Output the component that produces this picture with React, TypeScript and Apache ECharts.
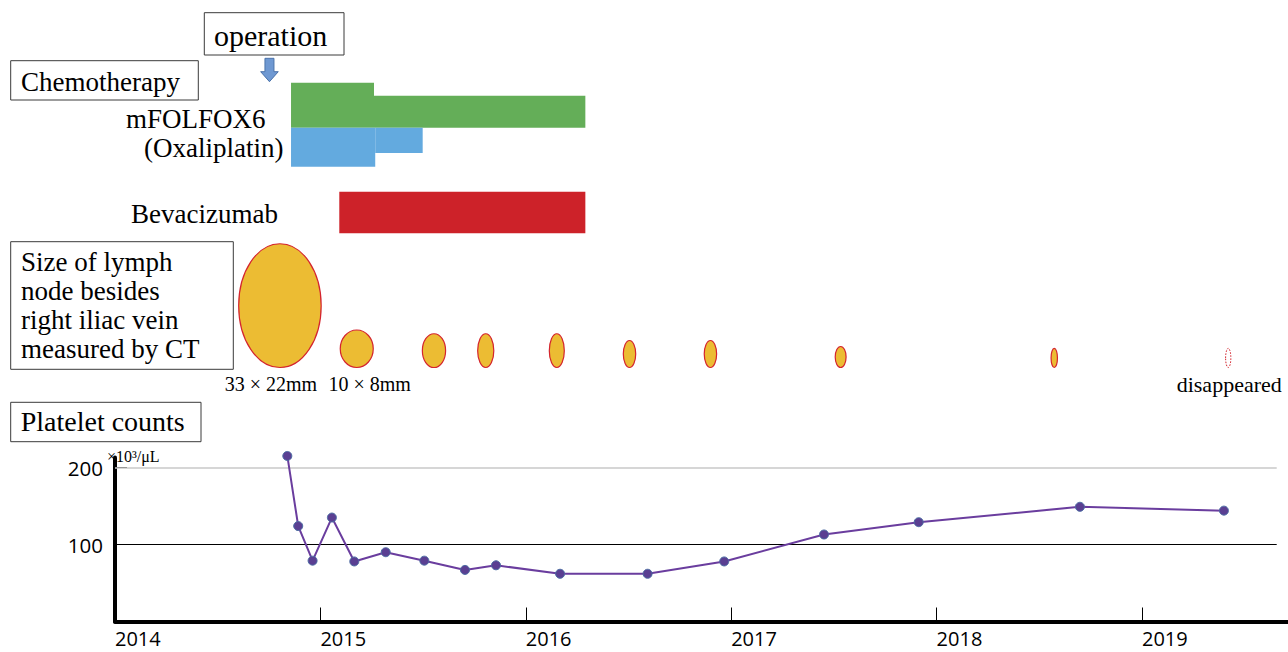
import React, { useEffect, useRef } from "react";
import * as echarts from "echarts";

// ---------- data ----------
const yearTicks = [2015, 2016, 2017, 2018, 2019];
const yearLabels = [2014, 2015, 2016, 2017, 2018, 2019];
const valueTicks = [100, 200];
const referenceLevels = [100, 200];

const plateletDates = [
  2014.839, 2014.892, 2014.962, 2015.056, 2015.165, 2015.318, 2015.506, 2015.704,
  2015.855, 2016.167, 2016.593, 2016.966, 2017.452, 2017.913, 2018.698, 2019.399,
];
const plateletValues = [
  215, 124, 79, 135, 78, 90, 79, 67, 73, 62, 62, 78, 113, 129, 149, 144,
];

const regimenNames = ["mFOLFOX6", "(Oxaliplatin)", "Bevacizumab"];
const therapyRow = [0, 0, 1, 1, 2];
const therapyStart = [2014.857, 2015.261, 2014.857, 2015.267, 2015.092];
const therapyEnd = [2015.261, 2016.29, 2015.267, 2015.498, 2016.29];
const therapyDose = [1, 0.71, 1, 0.65, 1];

const operationDates = [2014.752];

const ctDates = [
  2014.803, 2015.177, 2015.553, 2015.805, 2016.151, 2016.505, 2016.899, 2017.533,
  2018.573, 2019.42,
];
const nodeLongMm = [33, 10, 9, 9, 9, 7.2, 7.2, 5.6, 5.1, 5.1];
const nodeShortMm = [22, 8.8, 6.2, 4.3, 4, 3.3, 3.3, 2.9, 1.7, 1.4];
const nodePresent = [1, 1, 1, 1, 1, 1, 1, 1, 1, 0];
const nodeLabels = ["33 × 22mm", "10 × 8mm", "", "", "", "", "", "", "", "disappeared"];

// ---------- layout / style ----------
const X_MIN = 2014;
const X_MAX = 2019.711;
const REF_LINE_END = 2019.656;
const PX_PER_MM = 3.75;
const NODE_BOTTOM = 367.5;
const rowGeom = [
  { top: 82.7, bottom: 127.7, anchor: "bottom", color: "#64AE58" },
  { top: 127.7, bottom: 166.7, anchor: "top", color: "#63AADF" },
  { top: 191.7, bottom: 233.3, anchor: "bottom", color: "#CD2229" },
];
const labelDx = [-9, 13, 0, 0, 0, 0, 0, 0, 0, 1];
const SERIF = '"Liberation Serif", "Times New Roman", serif';
const SANS = '"Open Sans", "Noto Sans", sans-serif';

function txt(text: string, x: number, y: number, size: number, align = "left") {
  return {
    type: "text",
    silent: true,
    style: {
      text,
      x,
      y,
      font: `${size}px ${SERIF}`,
      fill: "#000",
      align,
      textAlign: align,
      verticalAlign: "middle",
      textVerticalAlign: "middle",
    },
  };
}
function box(x: number, y: number, w: number, h: number) {
  return {
    type: "rect",
    silent: true,
    shape: { x, y, width: w, height: h },
    style: { fill: "none", stroke: "#3a3a3a", lineWidth: 1 },
  };
}

export default function App() {
  const ref = useRef<HTMLDivElement>(null);
  useEffect(() => {
    document.body.style.margin = "0";
    if (!ref.current) return;
    const chart = echarts.init(ref.current, undefined, { renderer: "svg" });

    const therapyData = therapyStart.map((s, i) => [s, therapyEnd[i], therapyRow[i], therapyDose[i]]);
    const nodeData = ctDates.map((d, i) => [d, nodeLongMm[i], nodeShortMm[i], nodePresent[i], i]);

    const option: any = {
      animation: false,
      grid: [
        { left: 115, right: 0, top: 457.5, bottom: 30.5 },
        { left: 115, right: 0, top: 0, bottom: 0 },
      ],
      xAxis: [
        {
          gridIndex: 0,
          type: "value",
          min: X_MIN,
          max: X_MAX,
          interval: 1,
          axisLine: { show: true, onZero: false, lineStyle: { color: "#000", width: 4 } },
          axisTick: {
            show: true,
            inside: true,
            length: 14,
            customValues: yearTicks,
            lineStyle: { color: "#000", width: 1 },
          },
          axisLabel: {
            show: true,
            customValues: yearLabels,
            align: "left",
            margin: 6,
            color: "#000",
            fontSize: 20,
            lineHeight: 22,
            fontFamily: SANS,
            formatter: (v: number) => String(Math.round(v)),
          },
          splitLine: { show: false },
        },
        { gridIndex: 1, type: "value", min: X_MIN, max: X_MAX, show: false },
      ],
      yAxis: [
        {
          gridIndex: 0,
          type: "value",
          min: 0,
          max: 213,
          axisLine: { show: true, lineStyle: { color: "#000", width: 4 } },
          axisTick: {
            show: true,
            inside: true,
            length: 12,
            customValues: valueTicks,
            lineStyle: { color: "#000", width: 1 },
          },
          axisLabel: {
            show: true,
            customValues: valueTicks,
            margin: 12,
            color: "#000",
            fontSize: 20.5,
            fontFamily: SANS,
          },
          splitLine: { show: false },
        },
        { gridIndex: 1, type: "value", min: 0, max: 1, show: false },
      ],
      graphic: [
        box(204.3, 12.7, 139.7, 42.3),
        txt("operation", 214, 35, 30),
        box(10.7, 60.7, 187.6, 39.3),
        txt("Chemotherapy", 21, 81.6, 27),
        txt(regimenNames[0], 126, 119.2, 27),
        txt(regimenNames[1], 144, 147.9, 27),
        txt(regimenNames[2], 131, 213.6, 27),
        box(10.7, 241.7, 222.6, 127.6),
        txt("Size of lymph", 21, 262.4, 27),
        txt("node besides", 21, 291.4, 27),
        txt("right iliac vein", 21, 320.4, 27),
        txt("measured by CT", 21, 349.4, 27),
        box(10.7, 402.3, 190.3, 39.4),
        txt("Platelet counts", 20.7, 421.5, 28),
        txt("×10³/μL", 107, 456, 16),
      ],
      series: [
        {
          type: "line",
          xAxisIndex: 0,
          yAxisIndex: 0,
          clip: false,
          data: plateletDates.map((d, i) => [d, plateletValues[i]]),
          symbol: "circle",
          symbolSize: 9,
          lineStyle: { color: "#6A3D9E", width: 2 },
          itemStyle: { color: "#5A3F92", borderColor: "#4C6CA3", borderWidth: 1 },
          z: 5,
          markLine: {
            silent: true,
            symbol: ["none", "none"],
            label: { show: false },
            data: referenceLevels.map((lv, i) => [
              {
                coord: [X_MIN, lv],
                lineStyle: {
                  color: i === 0 ? "#000" : "#C8C8C8",
                  width: i === 0 ? 1 : 1.5,
                  type: "solid",
                },
              },
              { coord: [REF_LINE_END, lv] },
            ]),
          },
        },
        {
          type: "custom",
          xAxisIndex: 1,
          yAxisIndex: 1,
          data: therapyData,
          encode: { x: [0, 1] },
          renderItem: (params: any, api: any) => {
            const x0 = api.coord([api.value(0), 0])[0];
            const x1 = api.coord([api.value(1), 0])[0];
            const g = rowGeom[api.value(2)];
            const h = (g.bottom - g.top) * api.value(3);
            const y = g.anchor === "bottom" ? g.bottom - h : g.top;
            return {
              type: "rect",
              shape: { x: x0, y, width: x1 - x0, height: h },
              style: { fill: g.color },
            };
          },
        },
        {
          type: "custom",
          xAxisIndex: 1,
          yAxisIndex: 1,
          data: operationDates.map((d) => [d]),
          encode: { x: 0 },
          renderItem: (params: any, api: any) => {
            const cx = api.coord([api.value(0), 0])[0];
            return {
              type: "polygon",
              shape: {
                points: [
                  [cx - 4.5, 58.3],
                  [cx + 4.5, 58.3],
                  [cx + 4.5, 71.7],
                  [cx + 8.8, 71.7],
                  [cx, 81.7],
                  [cx - 8.8, 71.7],
                  [cx - 4.5, 71.7],
                ],
              },
              style: { fill: "#6E98D2", stroke: "#4A72AA", lineWidth: 1 },
            };
          },
        },
        {
          type: "custom",
          xAxisIndex: 1,
          yAxisIndex: 1,
          data: nodeData,
          encode: { x: 0 },
          renderItem: (params: any, api: any) => {
            const cx = api.coord([api.value(0), 0])[0];
            const ry = (api.value(1) * PX_PER_MM) / 2;
            const rx = (api.value(2) * PX_PER_MM) / 2;
            const present = api.value(3) === 1;
            const idx = api.value(4);
            const children: any[] = [
              {
                type: "ellipse",
                shape: { cx, cy: NODE_BOTTOM - ry, rx, ry },
                style: present
                  ? { fill: "#ECBC33", stroke: "#D4242E", lineWidth: 1.2 }
                  : { fill: "none", stroke: "#D4242E", lineWidth: 1, lineDash: [1.5, 1.5] },
              },
            ];
            const label = nodeLabels[idx];
            if (label) {
              children.push({
                type: "text",
                style: {
                  text: label,
                  x: cx + labelDx[idx],
                  y: 384,
                  font: `${idx === 9 ? 22 : 20}px ${SERIF}`,
                  fill: "#000",
                  align: "center",
                  textAlign: "center",
                  verticalAlign: "middle",
                  textVerticalAlign: "middle",
                },
              });
            }
            return { type: "group", children };
          },
        },
      ],
    };
    chart.setOption(option);
    return () => chart.dispose();
  }, []);
  return <div ref={ref} style={{ width: 1288, height: 652 }} />;
}
